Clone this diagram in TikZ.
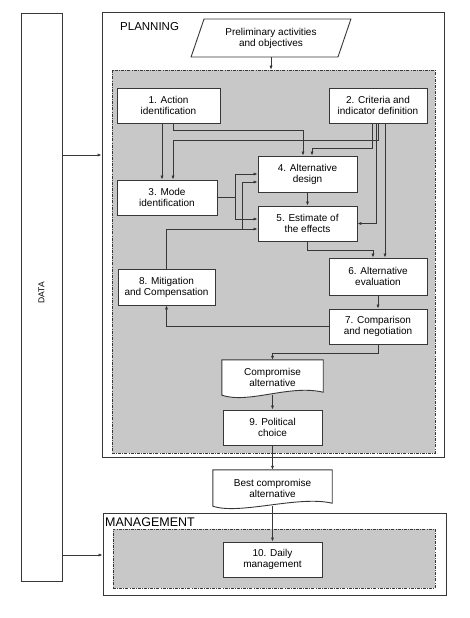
\documentclass[tikz,border=0pt]{standalone}
\usepackage{fontspec}
\setmainfont{Liberation Sans}
\usetikzlibrary{arrows.meta,shapes.geometric,calc}
\pgfdeclarelayer{bg}
\pgfdeclarelayer{docs}
\pgfsetlayers{bg,docs,main}
\definecolor{linegray}{RGB}{55,55,55}
\definecolor{areagray}{RGB}{200,200,200}
\tikzset{
  box/.style={draw=linegray,line width=0.9pt,fill=white,minimum width=99pt,minimum height=35pt,inner sep=1pt,align=center,font=\fontsize{10}{11}\selectfont},
  docbox/.style={minimum width=101pt,minimum height=35pt,inner sep=1pt,align=center,font=\fontsize{10}{11}\selectfont},
  frame/.style={draw=linegray,line width=1pt,inner sep=0pt},
  area/.style={draw=linegray,fill=areagray,line width=0.7pt,dash pattern=on 3pt off 1.2pt on 0.8pt off 1.2pt,inner sep=0pt},
  arr/.style={draw=linegray,line width=0.7pt,-{Latex[length=4pt,width=3.2pt]}},
}
\newcommand\wavedoc[1]{%
  \begin{pgfonlayer}{docs}
  \draw[fill=white,draw=linegray,line width=0.9pt] (#1.south west) -- (#1.north west) -- (#1.north east) -- ($(#1.south east)+(0,3pt)$)
    .. controls ($(#1.south east)+(-34pt,11pt)$) and ($(#1.south west)+(27pt,-9pt)$) .. (#1.south west) -- cycle;
  \end{pgfonlayer}}

\begin{document}
\begin{tikzpicture}[x=1pt,y=-1pt]
\useasboundingbox (0,0) rectangle (469,618);

% frames and shaded areas
\node[frame,minimum width=41pt,minimum height=567pt] (data) at (41.5,297.5) {};
\node[rotate=90,font=\fontsize{8.5}{10}\selectfont,inner sep=0pt] (datalbl) at (41.5,293) {DATA};
\node[frame,minimum width=342pt,minimum height=444pt] (plan) at (273,235) {};
\node[frame,minimum width=343pt,minimum height=82pt] (mgmt) at (274.5,554) {};
\begin{pgfonlayer}{bg}
\node[area,minimum width=323pt,minimum height=383pt] (planarea) at (273.5,261.5) {};
\node[area,minimum width=322pt,minimum height=59pt] (mgmtarea) at (274,558.5) {};
\end{pgfonlayer}
\node[anchor=west,font=\fontsize{11.5}{13}\selectfont,inner sep=0pt] (planlbl) at (120,27) {PLANNING};
\node[anchor=west,font=\fontsize{12.5}{14}\selectfont,inner sep=0pt] (mgmtlbl) at (105,522) {MANAGEMENT};

% steps
\node[trapezium,trapezium left angle=68,trapezium right angle=112,trapezium stretches=true,
  draw=linegray,line width=0.9pt,fill=white,minimum width=160pt,minimum height=38pt,
  align=center,inner sep=1pt,font=\fontsize{10}{11}\selectfont] (pre) at (271,38) {Preliminary activities\\and objectives};
\node[box,minimum width=103pt] (act) at (168.5,105.5) {1. Action\\identification};
\node[box,minimum width=98pt] (crit) at (378,105.5) {2. Criteria and\\indicator definition};
\node[box,minimum width=100pt] (mode) at (167,197.5) {3. Mode\\identification};
\node[box,minimum height=36pt] (design) at (307.5,174) {4. Alternative\\design};
\node[box] (estim) at (307.5,223.5) {5. Estimate of\\the effects};
\node[box,minimum width=98pt,minimum height=37pt] (eval) at (378,276.5) {6. Alternative\\evaluation};
\node[box,minimum width=98pt] (comp) at (378,326.5) {7. Comparison\\and negotiation};
\node[box,minimum width=97pt,minimum height=36pt] (mitig) at (166.5,287) {8. Mitigation\\and Compensation};
\node[docbox] (compalt) at (272.5,377.5) {Compromise\\alternative};
\node[box] (polit) at (272.5,427.5) {9. Political\\choice};
\node[docbox,minimum width=119pt,minimum height=36pt] (bestalt) at (272.5,488) {Best compromise\\alternative};
\node[box] (daily) at (272.5,559.5) {10. Daily\\management};
\wavedoc{compalt}
\wavedoc{bestalt}

% connections
\draw[arr] (pre.south) -- (pre.south |- planarea.north);
\draw[arr] ([xshift=-6.5pt]act.south) -- ([xshift=-6.5pt]act.south |- mode.north);
\draw[arr] ([xshift=4.5pt]act.south) -- ++(0,7) -| ([xshift=-4.5pt]design.north);
\draw[arr] ([xshift=-6pt]crit.south) -- ++(0,25) -| ([xshift=4.5pt]design.north);
\draw[arr] (crit.south) -- ++(0,17) -| ([xshift=6pt]mode.north);
\draw[arr] ([xshift=-2pt]crit.south) |- (estim.east);
\draw[arr] ([xshift=7pt]crit.south) -- ([xshift=7pt]crit.south |- eval.north);
\draw[arr] (design.south) -- (estim.north);
\draw[arr] (estim.south) -- ++(0,8.5) -| ([xshift=-5pt]eval.north);
\draw[arr] (mode.east) -- ++(18,0) |- (design.west);
\draw[arr] (mode.east) -- ++(18,0) |- ([yshift=4.5pt]estim.west);
\draw[arr] (mitig.north) |- ([yshift=-5.5pt]estim.west);
\draw[arr] ([yshift=-5.5pt]estim.west) ++(-15,0) |- ([yshift=-8pt]design.west);
\draw[arr] (eval.south) -- (comp.north);
\draw[arr] (comp.west) -| (mitig.south);
\draw[arr] (comp.south) -- ++(0,9) -| (compalt.north);
\draw[arr] (compalt.south) -- (polit.north);
\draw[arr] (polit.south) -- (bestalt.north);
\draw[arr] (bestalt.south) -- (daily.north);

% data feed
\coordinate (d1) at (0,155);
\coordinate (d2) at (0,555);
\draw[arr] (data.east |- d1) -- (plan.west |- d1);
\draw[arr] (data.east |- d2) -- (mgmt.west |- d2);
\end{tikzpicture}
\end{document}
